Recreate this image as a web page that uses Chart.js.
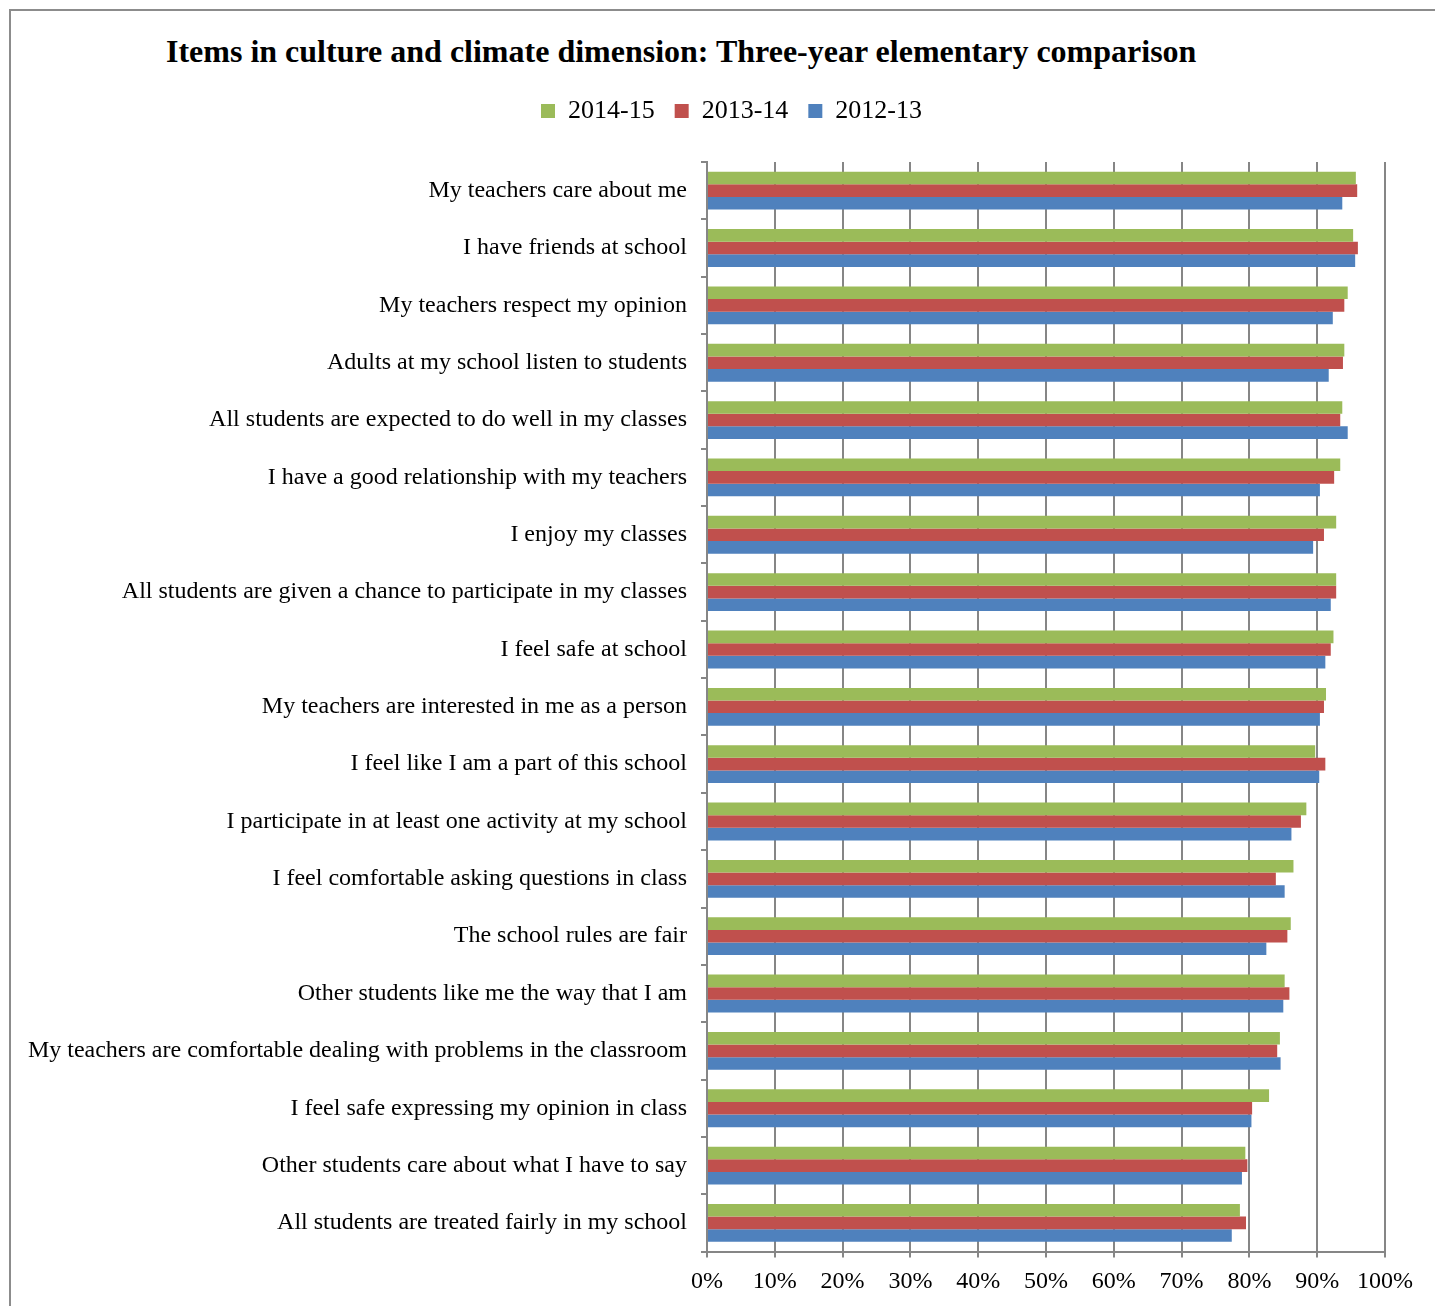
<!DOCTYPE html>
<html>
<head>
<meta charset="utf-8">
<title>Culture and climate items</title>
<script src="https://cdn.jsdelivr.net/npm/chart.js@4"></script>
<style>
    body { margin: 0; overflow: hidden; background: #fff; }
    #frame { position: absolute; left: 9px; top: 9px; width: 1500px; height: 1400px;
             border-top: 2px solid #8c8c8c; border-left: 2px solid #8c8c8c; }
    #title { position: absolute; left: 166px; top: 35px; white-space: nowrap;
             font: bold 32px "Liberation Serif", "Times New Roman", serif; line-height: 32px; color: #000; }
    #wrap { position: absolute; left: 0; top: 0; width: 1435px; height: 1306px; }
</style>
</head>
<body>
<div id="frame"></div>
<div id="title">Items in culture and climate dimension: Three-year elementary comparison</div>
<div id="wrap"><canvas id="climate"></canvas></div>
<script>
const items = [
    'My teachers care about me',
    'I have friends at school',
    'My teachers respect my opinion',
    'Adults at my school listen to students',
    'All students are expected to do well in my classes',
    'I have a good relationship with my teachers',
    'I enjoy my classes',
    'All students are given a chance to participate in my classes',
    'I feel safe at school',
    'My teachers are interested in me as a person',
    'I feel like I am a part of this school',
    'I participate in at least one activity at my school',
    'I feel comfortable asking questions in class',
    'The school rules are fair',
    'Other students like me the way that I am',
    'My teachers are comfortable dealing with problems in the classroom',
    'I feel safe expressing my opinion in class',
    'Other students care about what I have to say',
    'All students are treated fairly in my school'
]

// percent agreeing, by school year
const yr1415 = [95.7, 95.3, 94.5, 94.0, 93.7, 93.4, 92.8, 92.8, 92.4, 91.3, 89.7, 88.4, 86.5, 86.1, 85.2, 84.5, 82.9, 79.4, 78.6]
const yr1314 = [95.9, 96.0, 94.0, 93.8, 93.4, 92.5, 91.0, 92.8, 92.0, 91.0, 91.2, 87.6, 83.9, 85.6, 85.9, 84.1, 80.4, 79.7, 79.5]
const yr1213 = [93.7, 95.6, 92.3, 91.7, 94.5, 90.4, 89.4, 92.0, 91.2, 90.4, 90.3, 86.2, 85.2, 82.5, 85.0, 84.6, 80.3, 78.9, 77.4]

const serif = '"Liberation Serif", "Times New Roman", serif'
const axisGrey = '#868686'

// extra room under the legend before the plot starts
const legendGap = {
    id: 'legendGap',
    beforeInit(chart) {
        const fit = chart.legend.fit
        chart.legend.fit = function () {
            fit.bind(chart.legend)()
            this.height += 28
        }
    }
}

const ctx = document.getElementById('climate')
const myChart = new Chart(ctx, {
    type: 'bar',
    plugins: [legendGap],
    data: {
        labels: items,
        datasets: [
            { label: '2014-15', data: yr1415, backgroundColor: '#9BBB59' },
            { label: '2013-14', data: yr1314, backgroundColor: '#C0504D' },
            { label: '2012-13', data: yr1213, backgroundColor: '#4F81BD' }
        ]
    },
    options: {
        indexAxis: 'y',
        responsive: true,
        maintainAspectRatio: false,
        devicePixelRatio: 1,
        animation: false,
        categoryPercentage: 0.66,
        barPercentage: 1,
        layout: { padding: { top: 78, left: 28, right: 0, bottom: 0 } },
        plugins: {
            tooltip: { enabled: false },
            legend: {
                position: 'top',
                labels: {
                    boxWidth: 14,
                    boxHeight: 14,
                    padding: 20,
                    color: '#000',
                    font: { family: serif, size: 26 }
                }
            }
        },
        scales: {
            x: {
                min: 0,
                max: 100,
                ticks: {
                    stepSize: 10,
                    callback: v => v + '%',
                    color: '#000',
                    padding: 11,
                    font: { family: serif, size: 24, lineHeight: 1.1 }
                },
                grid: { color: axisGrey, lineWidth: 2, tickLength: 6 },
                border: { color: axisGrey, width: 2 },
                afterFit: s => { s.paddingRight = 50 }
            },
            y: {
                ticks: {
                    color: '#000',
                    padding: 14,
                    font: { family: serif, size: 24 }
                },
                grid: { drawOnChartArea: false, color: axisGrey, lineWidth: 2, tickLength: 6 },
                border: { color: axisGrey, width: 2 },
                afterFit: s => { s.width = 679 }
            }
        }
    }
})
</script>
</body>
</html>
